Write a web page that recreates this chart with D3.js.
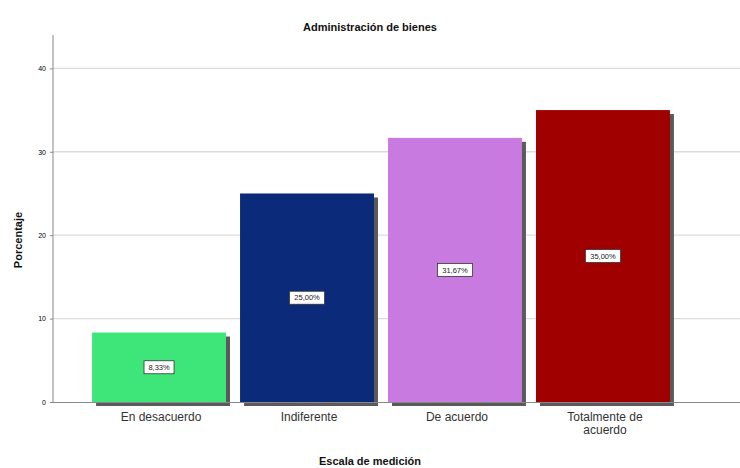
<!DOCTYPE html>
<html><head><meta charset="utf-8">
<script src="https://cdn.jsdelivr.net/npm/d3@7"></script>
<style>body{margin:0;background:#fff}svg{display:block;font-family:"Liberation Sans",Arial,sans-serif}</style>
</head><body><svg id="c" width="740" height="468"></svg>
<script>
const categories = ["En desacuerdo","Indiferente","De acuerdo","Totalmente de acuerdo"];
const categoryLines = [["En desacuerdo"],["Indiferente"],["De acuerdo"],["Totalmente de","acuerdo"]];
const values = [8.33, 25.00, 31.67, 35.00];
const valueLabels = ["8,33%","25,00%","31,67%","35,00%"];
const colors = ["#3ee67a","#0c2a7a","#c87ae0","#a00000"];
const yTicks = [0,10,20,30,40];

const svg = d3.select("#c");
const y = d3.scaleLinear().domain([0,44]).range([402,35]);
const x = d3.scaleBand().domain(categories).range([53,709]).paddingInner(0.095).paddingOuter(0.264);

// gridlines
svg.append("g").selectAll("line").data(yTicks.filter(d=>d>0)).join("line")
  .attr("x1",53).attr("x2",740).attr("y1",d=>y(d)).attr("y2",d=>y(d))
  .attr("stroke","#dcdcdc").attr("stroke-width",1.3);

// y axis
const ya = svg.append("g").attr("transform","translate(53,0)")
  .call(d3.axisLeft(y).tickValues(yTicks).tickSize(3).tickPadding(4));
ya.select(".domain").attr("stroke","#888").attr("d","M0,35V402");
ya.selectAll(".tick line").attr("stroke","#888");
ya.selectAll(".tick text").attr("font-size",7).attr("fill","#000");

// shadows
svg.append("g").selectAll("rect").data(values).join("rect")
  .attr("x",(d,i)=>x(categories[i])+4).attr("y",d=>y(d)+4)
  .attr("width",x.bandwidth()).attr("height",d=>y(0)-y(d))
  .attr("fill","#5a5a5a");
// bars
svg.append("g").selectAll("rect").data(values).join("rect")
  .attr("x",(d,i)=>x(categories[i])).attr("y",d=>y(d))
  .attr("width",x.bandwidth()).attr("height",d=>y(0)-y(d))
  .attr("fill",(d,i)=>colors[i]);

// x axis line
svg.append("line").attr("x1",53).attr("x2",740).attr("y1",402.5).attr("y2",402.5).attr("stroke","#888");

// value labels
const lg = svg.append("g").selectAll("g").data(values).join("g")
  .attr("transform",(d,i)=>`translate(${x(categories[i])+x.bandwidth()/2},${y(d/2)})`);
lg.append("rect").attr("x",(d,i)=>-(valueLabels[i].length*2.6+2)).attr("y",-6.5)
  .attr("width",(d,i)=>2*(valueLabels[i].length*2.6+2)).attr("height",13)
  .attr("fill","#fff").attr("stroke","#333").attr("stroke-width",0.8);
lg.append("text").text((d,i)=>valueLabels[i]).attr("text-anchor","middle").attr("dy","0.35em")
  .attr("font-size",7.5).attr("fill","#222");

// category labels
categories.forEach((c,i)=>{
  const t = svg.append("text").attr("x",x(c)+x.bandwidth()/2+2).attr("y",421)
    .attr("text-anchor","middle").attr("font-size",12).attr("fill","#333");
  categoryLines[i].forEach((l,j)=>t.append("tspan").attr("x",x(c)+x.bandwidth()/2+2).attr("dy",j?13:0).text(l));
});

// titles
svg.append("text").attr("x",370).attr("y",31).attr("text-anchor","middle")
  .attr("font-size",11).attr("font-weight","bold").attr("fill","#111").text("Administración de bienes");
svg.append("text").attr("x",370).attr("y",465).attr("text-anchor","middle")
  .attr("font-size",11).attr("font-weight","bold").attr("fill","#111").text("Escala de medición");
svg.append("text").attr("transform","translate(22,240) rotate(-90)").attr("text-anchor","middle")
  .attr("font-size",11).attr("font-weight","bold").attr("fill","#111").text("Porcentaje");
</script></body></html>
